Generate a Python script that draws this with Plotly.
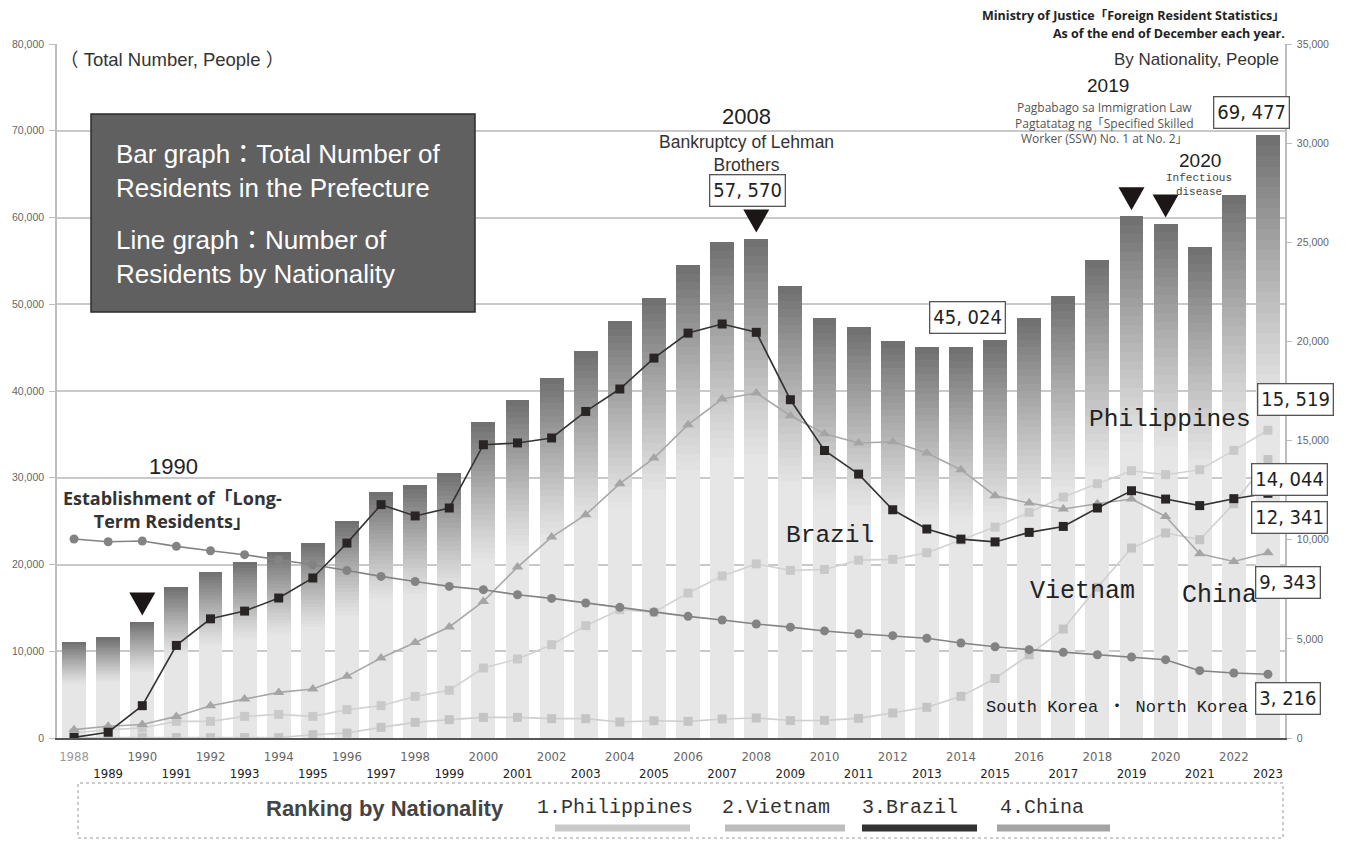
import plotly.graph_objects as go

# ---------------- data ----------------
years = list(range(1988, 2024))

total_residents = [11110, 11600, 13420, 17380, 19180, 20270, 21420, 22460, 25070, 28380,
                   29180, 30600, 36480, 38940, 41480, 44590, 48020, 50670, 54480, 57170,
                   57570, 52140, 48400, 47330, 45790, 45080, 45024, 45850, 48370, 50950,
                   55130, 60140, 59300, 56600, 62640, 69477]

brazil = [30, 290, 1630, 4670, 6010, 6400, 7060, 8070, 9830, 11770,
          11200, 11600, 14790, 14880, 15130, 16470, 17600, 19160, 20420, 20880,
          20460, 17060, 14500, 13310, 11510, 10540, 10030, 9890, 10370, 10670,
          11600, 12470, 12050, 11720, 12070, 12341]

china = [420, 590, 680, 1090, 1630, 1970, 2300, 2470, 3110, 4035,
         4820, 5600, 6890, 8620, 10135, 11260, 12825, 14120, 15800, 17095,
         17400, 16255, 15345, 14875, 14940, 14370, 13530, 12220, 11850, 11550,
         11815, 12050, 11175, 9295, 8905, 9343]

korea = [10035, 9900, 9935, 9665, 9445, 9245, 8990, 8740, 8450, 8150,
         7890, 7645, 7480, 7225, 7040, 6810, 6590, 6355, 6135, 5950,
         5750, 5590, 5400, 5260, 5160, 5030, 4790, 4600, 4455, 4320,
         4200, 4085, 3950, 3395, 3280, 3216]

philippines = [250, 420, 505, 840, 840, 1090, 1190, 1090, 1430, 1630,
               2100, 2410, 3530, 3985, 4705, 5665, 6470, 6340, 7310, 8170,
               8780, 8455, 8500, 8970, 9010, 9345, 9980, 10640, 11380, 12150,
               12825, 13480, 13280, 13530, 14505, 15519]

vietnam = [20, 20, 20, 20, 20, 20, 20, 165, 250, 535,
           790, 925, 1040, 1040, 975, 975, 805, 870, 840, 960,
           1010, 880, 890, 990, 1260, 1550, 2100, 3000, 4195, 5495,
           7600, 9580, 10340, 10000, 11815, 14044]

event_years = [1990, 2008, 2019, 2020]

left_ticks = list(range(0, 80001, 10000))
right_ticks = list(range(0, 35001, 5000))

# ---------------- fonts / helpers ----------------
SANS = "Liberation Sans, Arial, Noto Sans CJK JP, sans-serif"
NARROW = "Liberation Sans Narrow, Arial Narrow, DejaVu Sans Condensed, Liberation Sans, sans-serif"
MONO = "Liberation Mono, DejaVu Sans Mono, Noto Sans CJK JP, monospace"
GOTH = "Open Sans, Noto Sans CJK JP, sans-serif"

L, R, T, B = 57, 61, 44, 104
W, H = 1346, 842
PW, PH = W - L - R, H - T - B


def px(x):
    return (x - L) / PW


def py(y):
    return (T + PH - y) / PH


def mix(c1, c2, t):
    return "rgb(%d,%d,%d)" % tuple(round(a + (b - a) * t) for a, b in zip(c1, c2))


fig = go.Figure()

# ---------------- gradient bars (stacked segments) ----------------
LIGHT = (230, 230, 230)
DARK = (110, 110, 110)
g = 0.45
N = 26
fig.add_trace(go.Bar(x=years, y=[v * (1 - g) for v in total_residents], width=0.7,
                     marker=dict(color=mix(LIGHT, DARK, 0), line=dict(width=0)),
                     showlegend=False, hoverinfo="skip"))
for i in range(N):
    t = (i + 0.5) / N
    fig.add_trace(go.Bar(x=years, y=[v * g / N for v in total_residents], width=0.7,
                         marker=dict(color=mix(LIGHT, DARK, t ** 1.15), line=dict(width=0)),
                         showlegend=False, hoverinfo="skip"))

# ---------------- lines ----------------
def line(y, name, lc, mc, sym, size):
    fig.add_trace(go.Scatter(x=years, y=y, name=name, yaxis="y2", mode="lines+markers",
                             line=dict(color=lc, width=1.6),
                             marker=dict(symbol=sym, size=size, color=mc, line=dict(width=0)),
                             showlegend=False))


line(vietnam, "Vietnam", "#cfcfcf", "#c4c4c4", "square", 9)
line(philippines, "Philippines", "#d2d2d2", "#c9c9c9", "square", 9)
line(china, "China", "#a8a8a8", "#a5a5a5", "triangle-up", 10)
line(korea, "South Korea ・ North Korea", "#838383", "#838383", "circle", 9)
line(brazil, "Brazil", "#333333", "#2a2525", "square", 9)

# ---------------- axes ----------------
ticktext = []
for y in years:
    if y % 2 == 0:
        col = "#9a9a9a" if y == 1988 else "#666666"
        ticktext.append("<span style='color:%s'>%d</span>" % (col, y))
    else:
        ticktext.append("<br><span style='color:#222'>%d</span>" % y)

fig.update_layout(
    width=W, height=H,
    margin=dict(l=L, r=R, t=T, b=B),
    paper_bgcolor="white", plot_bgcolor="white",
    barmode="stack", bargap=0.3,
    xaxis=dict(range=[1987.5, 2023.5], tickmode="array", tickvals=years, ticktext=ticktext,
               tickfont=dict(family=NARROW, size=13), showgrid=False, zeroline=False,
               showline=True, linecolor="#555555", linewidth=1.5, ticks="", layer="below traces",
               ticklabelstandoff=6, fixedrange=True),
    yaxis=dict(range=[0, 80000], tickvals=left_ticks, tickformat=",", showgrid=True,
               gridcolor="#c9c9c9", gridwidth=1.5, zeroline=False, showline=True,
               linecolor="#bdbdbd", linewidth=1.5, ticks="outside", ticklen=6,
               tickcolor="#bdbdbd", ticklabelstandoff=3,
               tickfont=dict(family=SANS, size=10.5, color="#666666")),
    yaxis2=dict(range=[0, 35000], tickvals=right_ticks, tickformat=",", overlaying="y",
                side="right", showgrid=False, zeroline=False, showline=True,
                linecolor="#bdbdbd", linewidth=1.5, ticks="outside", ticklen=5,
                tickcolor="#bdbdbd", ticklabelstandoff=3,
                tickfont=dict(family=SANS, size=10.5, color="#666666")),
)

# ---------------- event triangles above bars ----------------
for ey in event_years:
    v = total_residents[years.index(ey)]
    fig.add_shape(type="path", xref="x", yref="y", xsizemode="pixel", ysizemode="pixel",
                  xanchor=ey, yanchor=v, path="M-13,29 L13,29 L0,6 Z",
                  fillcolor="#1c1616", line=dict(width=0))

# ---------------- text annotations ----------------
def ann(x, y, text, size, family=SANS, color="#333333", xanchor="center", **kw):
    fig.add_annotation(x=px(x), y=py(y), xref="paper", yref="paper", text=text,
                       showarrow=False, xanchor=xanchor, yanchor="middle",
                       font=dict(family=family, size=size, color=color), **kw)


# top source notes
ann(1287, 15, "<b>Ministry of Justice「Foreign Resident Statistics」</b>", 12.5, GOTH, "#222", "right")
ann(1287, 33, "<b>As of the end of December each year.</b>", 12.5, GOTH, "#222", "right")

ann(58, 59, "（ Total Number, People ）", 18.5, SANS, "#333", "left")
ann(1281, 59, "By Nationality, People", 17, SANS, "#333", "right")

# explanation box
fig.add_shape(type="rect", xref="paper", yref="paper", x0=px(91), x1=px(475), y0=py(312), y1=py(114),
              fillcolor="#606060", line=dict(color="#2b2b2b", width=1.5), layer="above")
ann(114, 171, "Bar graph：Total Number of<br>Residents in the Prefecture", 26, SANS, "white", "left",
    align="left")
ann(114, 257, "Line graph：Number of<br>Residents by Nationality", 26, SANS, "white", "left",
    align="left")

# 2008
ann(746, 117, "2008", 22, SANS, "#222")
ann(746, 153, "Bankruptcy of Lehman<br>Brothers", 17.5, SANS, "#333")

# 1990
ann(173, 466, "1990", 22, SANS, "#222")
ann(172, 509, "<b>Establishment of「Long-<br>Term Residents」</b>", 18, GOTH, "#333")

# 2019
ann(1108, 86, "2019", 19, SANS, "#222")
ann(1104, 123, "Pagbabago sa Immigration Law<br>Pagtatatag ng「Specified Skilled<br>Worker (SSW) No. 1 at No. 2」",
    12, GOTH, "#555")

# 2020
ann(1200, 160, "2020", 19, SANS, "#222")
ann(1199, 185, "Infectious<br>disease", 11, MONO, "#444")

# series labels
ann(1170, 420, "Philippines", 24.5, MONO, "#222")
ann(830, 535, "Brazil", 24.5, MONO, "#222")
ann(1082, 591, "Vietnam", 25, MONO, "#222")
ann(1219, 595, "China", 25, MONO, "#222")
ann(984, 707, "South Korea ・ North Korea", 17, MONO, "#222", "left")

# value boxes
def box(x, y, text):
    ann(x, y, text, 20, NARROW, "#222", bgcolor="white", bordercolor="#555555",
        borderwidth=1.3, borderpad=3)


box(1251, 113, "69, 477")
box(747, 190, "57, 570")
box(967, 317, "45, 024")
box(1296, 399, "15, 519")
box(1289, 479, "14, 044")
box(1290, 517, "12, 341")
box(1288, 582, "9, 343")
box(1288, 698, "3, 216")

# ---------------- bottom legend ----------------
fig.add_shape(type="rect", xref="paper", yref="paper", x0=px(78), x1=px(1283), y0=py(838), y1=py(783),
              fillcolor="rgba(0,0,0,0)", line=dict(color="#9a9a9a", width=1, dash="dot"))
ann(385, 808, "<b>Ranking by Nationality</b>", 22, SANS, "#444")
legend_items = [("1.Philippines", 535, 555, 690, "#c9c9c9"),
                ("2.Vietnam", 720, 725, 845, "#bdbdbd"),
                ("3.Brazil", 860, 862, 977, "#333333"),
                ("4.China", 998, 997, 1110, "#a3a3a3")]
for label, tx, lx0, lx1, col in legend_items:
    ann(tx, 807, label, 20, MONO, "#333", "left")
    fig.add_shape(type="line", xref="paper", yref="paper", x0=px(lx0), x1=px(lx1),
                  y0=py(828), y1=py(828), line=dict(color=col, width=7))

fig.write_html("out.html", config={"displayModeBar": False},
               post_script="document.body.style.margin='0px';")
